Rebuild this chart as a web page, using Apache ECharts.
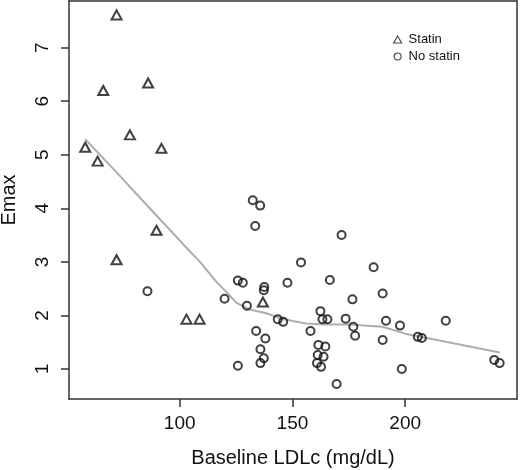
<!DOCTYPE html>
<html>
<head>
<meta charset="utf-8">
<script src="https://cdn.jsdelivr.net/npm/echarts@6/dist/echarts.min.js"></script>
<style>html,body{margin:0;padding:0;background:#fff}#c{width:520px;height:470px}</style>
</head>
<body>
<div id="c"></div>
<script>
const xTicks = [100, 150, 200];
const yTicks = [1, 2, 3, 4, 5, 6, 7];

const statinX = [72.0, 66.1, 86.0, 77.9, 58.1, 63.6, 91.9, 89.7, 72.0, 103.0, 108.8, 136.9];
const statinY = [7.61, 6.20, 6.34, 5.37, 5.14, 4.88, 5.12, 3.59, 3.04, 1.93, 1.93, 2.25];

const noStatinX = [85.7, 119.9, 125.8, 128.0, 129.8, 125.8, 132.4, 135.7, 133.5, 153.8, 137.5, 137.3, 147.8,
  143.5, 145.9, 158.0, 133.9, 138.0, 135.8, 137.3, 135.8, 171.8, 186.0, 166.6, 190.0, 176.6, 162.4, 163.3, 165.5,
  173.6, 177.0, 177.8, 191.5, 197.7, 190.0, 198.5, 169.6, 205.6, 207.4, 218.0, 239.5, 241.9,
  161.5, 164.6, 161.2, 163.8, 160.9, 162.7];
const noStatinY = [2.45, 2.31, 2.65, 2.61, 2.18, 1.06, 4.15, 4.05, 3.67, 2.99, 2.53, 2.47, 2.61,
  1.93, 1.88, 1.71, 1.71, 1.57, 1.37, 1.20, 1.11, 3.50, 2.90, 2.66, 2.41, 2.30, 2.08, 1.93, 1.93,
  1.94, 1.79, 1.62, 1.90, 1.81, 1.54, 1.00, 0.72, 1.60, 1.58, 1.90, 1.17, 1.11,
  1.45, 1.42, 1.26, 1.23, 1.11, 1.04];

const smoothX = [58.1, 72, 86.7, 95.6, 101.5, 108.8, 116.2, 120.7, 125.1, 131, 138.4, 145, 156, 165, 175, 190, 200, 242];
const smoothY = [5.29, 4.67, 4.00, 3.60, 3.33, 3.01, 2.63, 2.44, 2.24, 2.11, 2.04, 1.94, 1.85, 1.83, 1.83, 1.79, 1.66, 1.31];

const zip = (a, b) => a.map((v, i) => [v, b[i]]);
const FONT = 'Liberation Sans, Arial, sans-serif';
const AX = '#333';
const XMIN = 50.9, XMAX = 249.6, YMIN = 0.44, YMAX = 7.87;

const chart = echarts.init(document.getElementById('c'), null, {renderer: 'canvas'});
chart.setOption({
  animation: false,
  backgroundColor: '#fff',
  grid: {left: 69, top: 1, width: 448, height: 398, show: false, containLabel: false, outerBoundsMode: 'none'},
  legend: {
    orient: 'vertical', left: 388, top: 28, itemWidth: 8, itemHeight: 7, itemGap: 4,
    textStyle: {fontFamily: FONT, fontSize: 13, color: '#111', padding: [0, 0, 0, 2]},
    data: [
      {name: 'Statin', icon: 'triangle', itemStyle: {color: 'rgba(0,0,0,0)', borderColor: '#222', borderWidth: 1.2}},
      {name: 'No statin', icon: 'circle', itemStyle: {color: 'rgba(0,0,0,0)', borderColor: '#222', borderWidth: 1.2}}
    ]
  },
  xAxis: [{
    type: 'value', min: XMIN, max: XMAX, position: 'bottom',
    name: 'Baseline LDLc (mg/dL)', nameLocation: 'middle', nameGap: 49,
    nameTextStyle: {fontFamily: FONT, fontSize: 20, color: '#111'},
    axisLine: {show: true, onZero: false, lineStyle: {color: AX, width: 1.5}},
    axisTick: {show: true, length: 8, customValues: xTicks, lineStyle: {color: AX, width: 1.5}},
    axisLabel: {customValues: xTicks, fontFamily: FONT, fontSize: 19, color: '#111', margin: 15},
    splitLine: {show: false}
  }, {
    type: 'value', min: XMIN, max: XMAX, position: 'top',
    axisLine: {show: true, onZero: false, lineStyle: {color: AX, width: 1.5}},
    axisTick: {show: false}, axisLabel: {show: false}, splitLine: {show: false}
  }],
  yAxis: [{
    type: 'value', min: YMIN, max: YMAX, position: 'left',
    name: 'Emax', nameLocation: 'middle', nameGap: 50, nameRotate: 90,
    nameTextStyle: {fontFamily: FONT, fontSize: 20, color: '#111'},
    axisLine: {show: true, onZero: false, lineStyle: {color: AX, width: 1.5}},
    axisTick: {show: true, length: 8, customValues: yTicks, lineStyle: {color: AX, width: 1.5}},
    axisLabel: {customValues: yTicks, rotate: 90, fontFamily: FONT, fontSize: 19, color: '#111', margin: 17},
    splitLine: {show: false}
  }, {
    type: 'value', min: YMIN, max: YMAX, position: 'right',
    axisLine: {show: true, onZero: false, lineStyle: {color: AX, width: 1.5}},
    axisTick: {show: false}, axisLabel: {show: false}, splitLine: {show: false}
  }],
  series: [
    {
      name: 'Lowess', type: 'line', data: zip(smoothX, smoothY), showSymbol: false, symbol: 'none',
      lineStyle: {color: '#adadad', width: 2}, z: 1
    },
    {
      name: 'Statin', type: 'scatter', data: zip(statinX, statinY), symbol: 'triangle', symbolSize: [10, 9],
      itemStyle: {color: 'rgba(0,0,0,0)', borderColor: '#111', borderWidth: 2}, z: 3
    },
    {
      name: 'No statin', type: 'scatter', data: zip(noStatinX, noStatinY), symbol: 'circle', symbolSize: 8,
      itemStyle: {color: 'rgba(0,0,0,0)', borderColor: '#111', borderWidth: 2}, z: 3
    }
  ]
});
</script>
</body>
</html>
